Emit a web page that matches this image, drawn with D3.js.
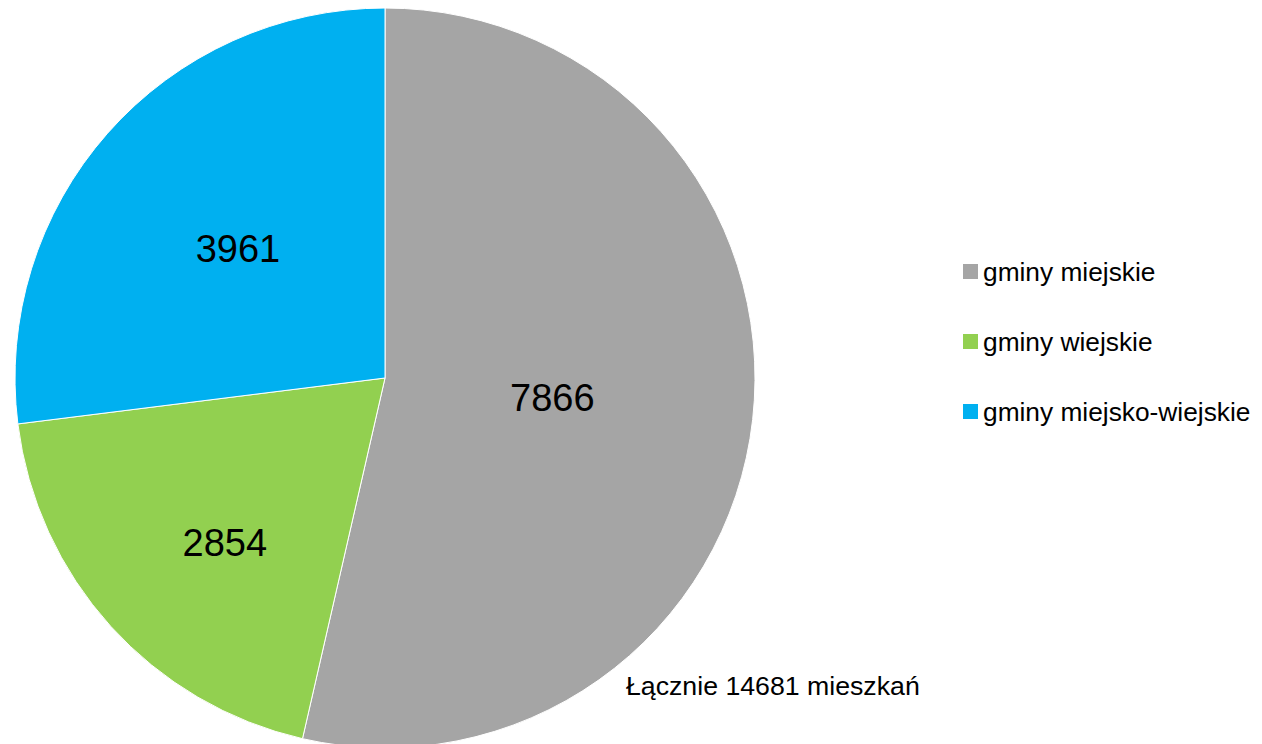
<!DOCTYPE html>
<html>
<head>
<meta charset="utf-8">
<script src="https://cdn.jsdelivr.net/npm/d3@7"></script>
<style>
  body { margin: 0; background: #fff; }
  svg { display: block; font-family: "Liberation Sans", Arial, sans-serif; }
</style>
</head>
<body>
<div id="chart"></div>
<script>
// data
var categories = ["gminy miejskie", "gminy wiejskie", "gminy miejsko-wiejskie"];
var values = [7866, 2854, 3961];
var colors = ["#a5a5a5", "#92d050", "#00b0f0"];
var totalLabel = "Łącznie 14681 mieszkań";

// layout
var width = 1262, height = 744;
var cx = 385, cy = 378, radius = 370;
var labelFrac = [0.455, 0.62, 0.53];   // Excel "best fit" label spots

var svg = d3.select("#chart").append("svg")
    .attr("width", width)
    .attr("height", height);

var g = svg.append("g")
    .attr("transform", "translate(" + cx + "," + cy + ")");

var pie = d3.pie().sort(null).value(function(d) { return d; });
var arcs = pie(values);

var arc = d3.arc().innerRadius(0).outerRadius(radius);

g.selectAll(".slice")
    .data(arcs)
  .enter().append("path")
    .attr("class", "slice")
    .attr("d", arc)
    .attr("fill", function(d, i) { return colors[i]; })
    .attr("stroke", "#fff")
    .attr("stroke-width", 1);

g.selectAll(".lbl")
    .data(arcs)
  .enter().append("text")
    .attr("class", "lbl")
    .attr("transform", function(d, i) {
        var r = radius * labelFrac[i];
        var c = d3.arc().innerRadius(r).outerRadius(r).centroid(d);
        // nudge the small slice label the way Excel does
        if (i === 1) { c[0] += 10; c[1] += 10; }
        return "translate(" + c[0] + "," + c[1] + ")";
    })
    .attr("text-anchor", "middle")
    .attr("dy", "0.36em")
    .attr("font-size", 38)
    .attr("fill", "#000")
    .text(function(d) { return d.data; });

// total note
svg.append("text")
    .attr("x", 626)
    .attr("y", 695)
    .attr("font-size", 26.7)
    .attr("fill", "#000")
    .text(totalLabel);

// legend
var legend = svg.append("g")
    .attr("transform", "translate(963,272)");

var items = legend.selectAll(".item")
    .data(categories)
  .enter().append("g")
    .attr("class", "item")
    .attr("transform", function(d, i) { return "translate(0," + (i * 70) + ")"; });

items.append("rect")
    .attr("x", 0)
    .attr("y", -8)
    .attr("width", 15)
    .attr("height", 15)
    .attr("fill", function(d, i) { return colors[i]; });

items.append("text")
    .attr("x", 20)
    .attr("dy", "0.36em")
    .attr("font-size", 26.3)
    .attr("fill", "#000")
    .text(function(d) { return d; });
</script>
</body>
</html>
